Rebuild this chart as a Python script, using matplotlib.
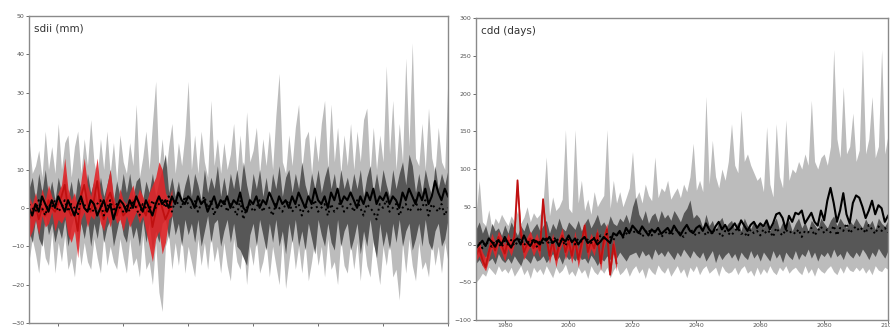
import numpy as np
import matplotlib.pyplot as plt

# years of the model runs and of the observations
years = np.arange(1971, 2101)
obs_years = np.arange(1971, 2016)

# ---- sdii (mm) ----
sdii_light_hi = [18, 9, 11, 15, 8, 20, 10, 16, 9, 22,
                 10, 17, 19, 8, 16, 20, 9, 18, 11, 23,
                 12, 8, 18, 10, 20, 9, 17, 7, 19, 12,
                 9, 17, 11, 27, 8, 13, 20, 10, 22, 33,
                 10, 18, 8, 16, 22, 9, 17, 11, 19, 33,
                 10, 19, 9, 20, 12, 8, 28, 11, 18, 9,
                 17, 10, 14, 22, 9, 19, 8, 25, 12, 15,
                 21, 9, 18, 11, 20, 10, 24, 35, 12, 9,
                 19, 11, 21, 27, 10, 18, 20, 9, 19, 12,
                 22, 28, 10, 27, 12, 21, 9, 19, 11, 22,
                 10, 20, 12, 23, 26, 9, 21, 10, 19, 12,
                 37, 14, 28, 10, 22, 12, 39, 16, 43, 13,
                 11, 22, 10, 26, 13, 9, 21, 12, 10, 35]
sdii_light_lo = [-14, -8, -12, -17, -7, -13, -15, -6, -17, -9,
                 -14, -7, -16, -13, -18, -8, -15, -9, -14, -16,
                 -8, -13, -17, -7, -15, -10, -14, -16, -8, -13,
                 -17, -8, -15, -13, -18, -7, -16, -14, -20, -9,
                 -22, -27, -10, -7, -16, -9, -15, -7, -17, -10,
                 -14, -18, -8, -15, -9, -16, -7, -14, -10, -17,
                 -9, -15, -19, -8, -14, -16, -9, -20, -10, -15,
                 -8, -17, -14, -9, -18, -10, -15, -20, -8, -21,
                 -14, -8, -16, -10, -17, -9, -19, -14, -8, -15,
                 -10, -18, -8, -16, -14, -20, -8, -15, -17, -9,
                 -16, -9, -19, -8, -15, -18, -8, -14, -20, -10,
                 -15, -8, -18, -16, -24, -9, -17, -8, -15, -19,
                 -9, -16, -14, -18, -8, -15, -10, -17, -9, -14]
sdii_dark_hi = [5, 8, 2, 9, 4, 10, 3, 7, 2, 8,
                4, 9, 3, 7, 1, 8, 5, 2, 9, 4,
                7, 2, 8, 3, 6, 10, 2, 7, 3, 9,
                4, 9, 3, 7, 8, 2, 7, 4, 9, 3,
                7, 10, 14, 4, 8, 3, 7, 2, 6, 9,
                3, 9, 6, 2, 10, 4, 8, 5, 11, 3,
                8, 3, 9, 5, 10, 4, 12, 6, 2, 9,
                5, 10, 3, 8, 2, 9, 5, 11, 3, 8,
                10, 4, 9, 5, 12, 6, 3, 9, 5, 10,
                4, 8, 11, 5, 9, 3, 10, 5, 8, 4,
                9, 5, 10, 3, 8, 11, 4, 9, 4, 10,
                6, 3, 10, 5, 9, 12, 6, 14, 11, 4,
                9, 4, 10, 6, 3, 11, 5, 9, 6, 10]
sdii_dark_lo = [-6, -9, -3, -8, -10, -2, -7, -4, -9, -5,
                -8, -3, -10, -5, -2, -9, -4, -8, -3, -10,
                -4, -8, -2, -9, -5, -3, -10, -6, -2, -7,
                -9, -3, -8, -5, -10, -3, -9, -4, -11, -6,
                -9, -4, -3, -8, -2, -7, -4, -10, -3, -7,
                -4, -9, -3, -10, -6, -2, -9, -4, -3, -10,
                -6, -3, -9, -4, -10, -11, -13, -15, -7, -4,
                -10, -3, -7, -11, -4, -9, -3, -10, -6, -12,
                -4, -9, -3, -10, -6, -11, -4, -8, -12, -3,
                -7, -10, -4, -9, -11, -3, -10, -6, -4, -11,
                -8, -4, -12, -6, -10, -3, -9, -13, -4, -10,
                -6, -11, -4, -9, -3, -10, -6, -4, -11, -8,
                -4, -10, -3, -9, -11, -6, -4, -10, -8, -3]
sdii_mean = [0, -2, 1, -1, 3, 1, -1, 2, 0, 3,
             1, -1, 2, 0, -2, 1, 3, 0, -1, 2,
             1, -2, 0, 2, -1, 1, -3, 0, 2, 1,
             -1, 2, 0, 3, 1, -1, 2, 0, -2, 1,
             3, 1, 2, 0, 3, 1, 4, 2, 1, 3,
             2, 0, 3, 1, 2, -1, 1, 3, 0, 2,
             1, 3, 0, 2, 1, 4, 0, -1, 2, 1,
             3, 0, 2, 1, 4, 2, 0, 3, 1, 2,
             0, 3, 1, 4, 2, 0, 3, 1, 5, 2,
             1, 3, 0, 4, 2, 5, 1, 3, 2, 4,
             2, 0, 3, 1, 4, 2, 5, 1, 3, 2,
             4, 1, 3, 2, 0, 4, 2, 5, 3, 1,
             4, 2, 5, 1, 3, 7, 4, 2, 5, 3]
sdii_mean2 = [1, 0, -1, 2, 0, -2, 1, 0, 2, -1,
              0, 2, -1, 1, 0, -2, 2, 1, -1, 0,
              -1, 1, 2, -2, 0, 2, -1, 1, 0, -1,
              1, -1, 2, 0, -2, 1, 0, -1, 2, 0,
              1, 2, 0, 3, -1, 2, 1, 0, 3, 1,
              0, 2, -1, 1, 3, 0, 2, -2, 1, 0,
              2, -1, 1, 0, -2, 2, -3, 0, 1, -1,
              0, 2, -1, 1, 0, -2, 1, 0, -1, 1,
              2, -1, 0, 1, -2, 1, -1, 0, 2, -1,
              0, 1, -2, 1, -1, 0, 2, -1, 0, 1,
              -1, 2, 0, -2, 1, 0, -1, -3, 1, 0,
              2, -1, 0, 1, -2, 0, 1, -1, 0, 2,
              -1, 0, 2, -2, 1, 0, -1, 1, -2, 0]
sdii_obs_hi = [3, 1, 4, 0, 5, 2, 6, 3, 1, 4,
               6, 13, 5, 2, 4, 0, 7, 13, 6, 3,
               8, 13, 4, 1, 6, 10, 3, 0, 5, 2,
               1, 4, 6, 2, 5, 3, 1, 4, 6, 8,
               12, 10, 4, 2, 5]
sdii_obs_lo = [-8, -6, -3, -7, -2, -5, -4, -1, -6, -3,
               -4, -2, -7, -9, -6, -13, -3, -1, -5, -2,
               -3, 0, -4, -6, -2, -5, -1, -4, -3, -6,
               -2, -5, -3, -1, -4, -2, -6, -10, -14, -8,
               -6, -12, -9, -3, -2]
sdii_obs = [-3, -1, 1, -3, 0, -2, 2, 0, -1, 1,
            3, 6, 0, -2, -1, -6, 3, 6, 1, -1,
            2, 7, 0, -3, 2, 4, 1, -2, 1, -2,
            -1, 0, 2, 0, 1, 0, -2, 2, -5, -1,
            3, 0, -3, -1, 2]

# ---- cdd (days) ----
cdd_light_hi = [40, 85, 30, 25, 46, 20, 35, 28, 40, 32,
                25, 38, 30, 45, 28, 36, 50, 30, 42, 35,
                40, 55, 116, 38, 63, 45, 50, 60, 152, 48,
                42, 152, 55, 85, 45, 60, 40, 70, 50, 58,
                65, 152, 48, 85, 55, 70, 50, 62, 75, 123,
                60, 70, 55, 80, 65, 58, 116, 62, 75, 70,
                85, 60, 68, 75, 62, 80, 70, 90, 134, 72,
                85, 70, 196, 80, 138, 90, 75, 100, 85, 110,
                160, 105, 95, 178, 110, 120, 105, 95, 85, 90,
                70, 156, 80, 63, 160, 90, 75, 165, 85, 100,
                95, 110, 100, 120, 105, 191, 110, 100, 115, 120,
                105, 130, 258, 140, 115, 209, 120, 130, 174, 110,
                125, 258, 120, 140, 196, 115, 130, 258, 120, 145]
cdd_light_lo = [-50, -45, -38, -42, -30, -35, -40, -28, -36, -32,
                -38, -30, -42, -35, -28, -40, -33, -45, -30, -37,
                -32, -40, -28, -36, -44, -30, -38, -34, -26, -40,
                -35, -42, -30, -38, -33, -45, -28, -36, -40, -32,
                -38, -30, -44, -34, -28, -40, -36, -30, -42, -33,
                -28, -38, -32, -45, -30, -36, -40, -27, -34, -38,
                -30, -42, -35, -28, -38, -32, -44, -30, -36, -28,
                -40, -32, -28, -38, -34, -30, -42, -28, -35, -38,
                -36, -30, -40, -32, -28, -38, -34, -42, -30, -40,
                -32, -38, -28, -36, -40, -30, -35, -28, -38, -33,
                -30, -36, -40, -28, -38, -32, -42, -30, -35, -38,
                -32, -28, -36, -40, -30, -38, -28, -34, -36, -30,
                -35, -30, -38, -32, -40, -28, -34, -36, -30, -33]
cdd_dark_hi = [20, 30, 15, 25, 10, 28, 18, 22, 12, 26,
               15, 30, 20, 12, 25, 18, 30, 15, 22, 28,
               18, 25, 32, 15, 28, 20, 35, 22, 18, 30,
               25, 20, 32, 18, 28, 35, 22, 30, 40, 25,
               30, 22, 38, 28, 25, 35, 30, 40, 28, 50,
               63, 40, 32, 45, 28, 38, 42, 30, 45, 35,
               40, 32, 45, 38, 30, 42, 48, 59, 35, 40,
               35, 22, 40, 25, 32, 18, 30, 36, 22, 28,
               32, 20, 30, 18, 35, 25, 20, 32, 24, 30,
               22, 32, 18, 28, 35, 20, 30, 24, 32, 18,
               28, 35, 22, 30, 18, 32, 26, 20, 35, 28,
               22, 32, 38, 25, 35, 28, 22, 32, 26, 35,
               28, 22, 34, 25, 32, 20, 35, 28, 24, 32]
cdd_dark_lo = [-25, -20, -28, -15, -22, -18, -26, -12, -20, -24,
               -18, -25, -15, -22, -28, -16, -20, -25, -14, -22,
               -20, -15, -24, -18, -12, -22, -16, -26, -14, -20,
               -16, -22, -12, -20, -18, -25, -14, -20, -28, -18,
               -22, -15, -20, -12, -18, -10, -16, -22, -14, -12,
               -10, -18, -8, -15, -12, -20, -6, -14, -10, -16,
               -8, -14, -20, -10, -16, -6, -12, -18, -8, -14,
               -18, -10, -22, -15, -8, -24, -12, -20, -14, -10,
               -18, -12, -22, -10, -16, -20, -8, -18, -12, -22,
               -10, -16, -22, -8, -18, -12, -24, -10, -16, -20,
               -8, -20, -12, -16, -6, -18, -10, -22, -12, -16,
               -10, -18, -6, -16, -12, -20, -8, -14, -18, -10,
               -16, -6, -12, -20, -10, -16, -5, -12, -18, -8]
cdd_mean = [-5, 0, 5, -2, 8, 3, -3, 6, 0, 10,
            2, -4, 5, 8, 0, 12, 3, -2, 6, 4,
            0, 8, 5, 10, 2, 6, -2, 8, 4, 12,
            3, 8, 0, 6, 10, 2, 5, 8, 0, 4,
            10, 6, 2, 15, 12, 18, 10, 22, 15, 25,
            20, 15, 24, 18, 12, 20, 16, 22, 14, 18,
            22, 15, 25, 18, 12, 20, 26, 18, 15, 22,
            25, 18, 28, 20, 15, 24, 30, 20, 26, 18,
            22, 28, 20, 32, 25, 18, 26, 30, 22, 28,
            24, 32, 20, 28, 40, 42, 35, 20, 38, 30,
            42, 40, 45, 28, 35, 42, 30, 25, 45, 32,
            58, 75, 55, 30, 45, 68, 40, 28, 55, 65,
            62, 50, 35, 45, 58, 40, 52, 48, 30, 38]
cdd_mean2 = [-2, 3, -5, 4, 0, -3, 6, 2, -4, 5,
             0, 6, -2, 3, 8, -1, 4, 2, 7, -3,
             5, 2, 8, 0, 4, 10, 3, 6, -2, 8,
             5, 0, 8, 4, 10, 6, 2, 9, 5, 12,
             8, 14, 10, 6, 12, 16, 9, 14, 18, 20,
             14, 18, 10, 16, 20, 12, 18, 15, 10, 14,
             18, 12, 16, 20, 14, 10, 18, 22, 15, 12,
             16, 20, 12, 18, 14, 22, 16, 10, 18, 15,
             12, 18, 22, 14, 16, 10, 20, 15, 18, 12,
             20, 14, 18, 10, 22, 16, 12, 20, 15, 18,
             14, 20, 10, 18, 16, 22, 12, 18, 24, 15,
             20, 16, 25, 12, 22, 18, 28, 15, 20, 24,
             18, 22, 15, 26, 20, 14, 24, 18, 22, 16]
cdd_obs_hi = [-5, 5, -10, -18, 0, 15, 2, 18, 10, 0,
              15, 5, 20, 85, 25, 0, 10, 18, 5, 15,
              2, 60, 20, -5, 15, -8, 10, 22, 0, 15,
              -5, 18, -8, 10, 30, 0, 15, 5, 22, -12,
              15, 28, -25, 10, -15]
cdd_obs_lo = [-22, -15, -28, -35, -20, -5, -18, 0, -10, -22,
              -5, -15, 0, 70, 5, -20, -10, -2, -15, -5,
              -18, 45, 0, -25, -5, -30, -10, 2, -20, -5,
              -25, -2, -30, -10, 15, -20, -5, -15, 5, -35,
              -5, 10, -42, -10, -35]
cdd_obs = [-15, -5, -20, -30, -10, 5, -8, 10, 0, -12,
           5, -5, 10, 85, 15, -10, 0, 8, -5, 5,
           -8, 60, 10, -15, 5, -20, 0, 12, -10, 5,
           -15, 8, -20, 0, 25, -10, 5, -5, 15, -25,
           5, 20, -40, 0, -25]

light_grey = '#bcbcbc'
dark_grey = '#575757'
obs_red = '#e0262a'


def draw_panel(ax, light_lo, light_hi, dark_lo, dark_hi, mean, mean2,
               obs_lo, obs_hi, obs, label, ylim, yticks):
    ax.fill_between(years, light_lo, light_hi, color=light_grey, lw=0)
    ax.fill_between(years, dark_lo, dark_hi, color=dark_grey, lw=0)
    ax.fill_between(obs_years, obs_lo, obs_hi, color=obs_red, lw=0, alpha=0.9)
    ax.plot(obs_years, obs, color='#c01010', lw=1.3)
    ax.plot(years, mean2, color='black', lw=1.4, ls=':')
    ax.plot(years, mean, color='black', lw=1.5)
    ax.set_xlim(1971, 2100)
    ax.set_ylim(*ylim)
    ax.set_yticks(yticks)
    ax.set_xticks(np.arange(1980, 2101, 20))
    ax.tick_params(labelsize=4.5, length=2, width=0.6, colors='#555555', pad=1.5)
    ax.tick_params(axis='x', pad=0.5)
    for s in ax.spines.values():
        s.set_color('#8a8a8a')
        s.set_linewidth(1.0)
    ax.text(0.012, 0.975, label, transform=ax.transAxes, ha='left', va='top',
            fontsize=7.5, color='#333333')


fig = plt.figure(figsize=(8.9, 3.29), dpi=100)
ax1 = fig.add_axes([29 / 890, 1 - 323 / 329, (448 - 29) / 890, (323 - 16) / 329])
ax2 = fig.add_axes([476 / 890, 1 - 320 / 329, (888 - 476) / 890, (320 - 18) / 329])

draw_panel(ax1, sdii_light_lo, sdii_light_hi, sdii_dark_lo, sdii_dark_hi,
           sdii_mean, sdii_mean2, sdii_obs_lo, sdii_obs_hi, sdii_obs,
           'sdii (mm)', (-30, 50), np.arange(-30, 51, 10))
draw_panel(ax2, cdd_light_lo, cdd_light_hi, cdd_dark_lo, cdd_dark_hi,
           cdd_mean, cdd_mean2, cdd_obs_lo, cdd_obs_hi, cdd_obs,
           'cdd (days)', (-100, 300), np.arange(-100, 301, 50))
# the left panel shows no year labels under it
ax1.tick_params(axis='x', labelbottom=False)

fig.savefig('out.png', dpi=100)
